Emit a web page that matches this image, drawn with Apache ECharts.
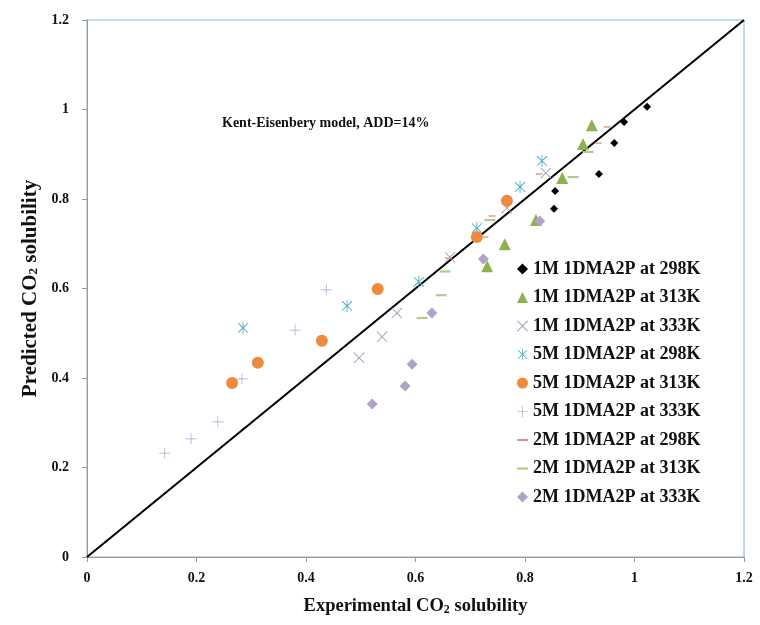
<!DOCTYPE html>
<html>
<head>
<meta charset="utf-8">
<script src="https://cdn.jsdelivr.net/npm/echarts@6/dist/echarts.min.js"></script>
<style>
  html, body { margin: 0; padding: 0; background: #fff; }
  #chart { width: 760px; height: 625px; }
</style>
</head>
<body>
<div id="chart"></div>
<script>
var seriesNames = [
    '1M 1DMA2P at 298K', '1M 1DMA2P at 313K', '1M 1DMA2P at 333K',
    '5M 1DMA2P at 298K', '5M 1DMA2P at 313K', '5M 1DMA2P at 333K',
    '2M 1DMA2P at 298K', '2M 1DMA2P at 313K', '2M 1DMA2P at 333K'
];
// [experimental, predicted]
var m1_298 = [[1.023, 1.006], [0.981, 0.972], [0.963, 0.925], [0.935, 0.856], [0.855, 0.818], [0.853, 0.778]];
var m1_313 = [[0.922, 0.965], [0.906, 0.923], [0.868, 0.847], [0.820, 0.753], [0.763, 0.699], [0.731, 0.650]];
var m1_333 = [[0.838, 0.858], [0.767, 0.780], [0.663, 0.670], [0.566, 0.545], [0.539, 0.492], [0.497, 0.445]];
var m5_298 = [[0.285, 0.512], [0.475, 0.561], [0.606, 0.615], [0.712, 0.735], [0.791, 0.827], [0.831, 0.885]];
var m5_313 = [[0.265, 0.389], [0.312, 0.434], [0.429, 0.483], [0.531, 0.599], [0.712, 0.715], [0.767, 0.796]];
var m5_333 = [[0.142, 0.232], [0.190, 0.264], [0.239, 0.302], [0.283, 0.398], [0.380, 0.507], [0.437, 0.597]];
var m2_298 = [[0.950, 0.961], [0.934, 0.925], [0.826, 0.856], [0.740, 0.762], [0.727, 0.715], [0.660, 0.668]];
var m2_313 = [[0.915, 0.905], [0.888, 0.849], [0.736, 0.753], [0.654, 0.638], [0.647, 0.585], [0.612, 0.534]];
var m2_333 = [[0.827, 0.751], [0.724, 0.666], [0.630, 0.545], [0.594, 0.431], [0.581, 0.382], [0.521, 0.342]];
var parityLine = [[0, 0], [1.2, 1.2]];

var serif = 'Liberation Serif';
var crossPath = 'path://M0,1.2L1.2,0L10,8.8L18.8,0L20,1.2L11.2,10L20,18.8L18.8,20L10,11.2L1.2,20L0,18.8L8.8,10Z';
var plusPath = 'path://M9.4,0H10.6V9.4H20V10.6H10.6V20H9.4V10.6H0V9.4H9.4Z';
var starPath = 'path://M9.3,0H10.7V20H9.3Z M1,2.4L2.2,1.4L10,8.9L17.8,1.4L19,2.4L11.2,10L19,17.6L17.8,18.6L10,11.1L2.2,18.6L1,17.6L8.8,10Z';
var dashPath = 'path://M0,0H20V4H0Z';

var styles = [
    { data: m1_298, symbol: 'diamond', size: 8, color: '#000000' },
    { data: m1_313, symbol: 'triangle', size: 12, color: '#8fb050' },
    { data: m1_333, symbol: crossPath, size: 11, color: '#a99bbd' },
    { data: m5_298, symbol: starPath, size: 12, color: '#4bacc6' },
    { data: m5_313, symbol: 'circle', size: 12, color: '#ef8a3c' },
    { data: m5_333, symbol: plusPath, size: 11, color: '#8ea9d8' },
    { data: m2_298, symbol: dashPath, size: 7, color: '#d99694' },
    { data: m2_313, symbol: dashPath, size: 11, color: '#b5cc88' },
    { data: m2_333, symbol: 'diamond', size: 11, color: '#b3a2c7' }
];

var series = styles.map(function (s, i) {
    return {
        name: seriesNames[i],
        type: 'scatter',
        data: s.data,
        symbol: s.symbol,
        symbolSize: s.size,
        symbolKeepAspect: true,
        itemStyle: { color: s.color, opacity: 1 },
        z: 3
    };
});
series.unshift({
    type: 'line',
    data: parityLine,
    symbol: 'none',
    silent: true,
    lineStyle: { color: '#000', width: 2 },
    z: 2
});

var chart = echarts.init(document.getElementById('chart'));
var option = {
    animation: false,
    grid: {
        left: 87, right: 16, top: 20, bottom: 68,
        show: true, borderColor: '#8db0dc', borderWidth: 1
    },
    legend: {
        data: seriesNames,
        orient: 'vertical',
        left: 512,
        top: 255,
        itemWidth: 11,
        itemHeight: 11,
        itemGap: 10.5,
        symbolKeepAspect: true,
        textStyle: { fontFamily: serif, fontWeight: 'bold', fontSize: 18, color: '#111', lineHeight: 16 }
    },
    xAxis: {
        type: 'value', min: 0, max: 1.2, interval: 0.2,
        name: '{a|Experimental CO}{s|2}{a| solubility}',
        nameLocation: 'middle', nameGap: 40,
        nameTextStyle: {
            rich: {
                a: { fontFamily: serif, fontWeight: 'bold', fontSize: 18.5, color: '#111' },
                s: { fontFamily: serif, fontWeight: 'bold', fontSize: 12, color: '#111', verticalAlign: 'bottom', padding: [7, 0, 0, 0] }
            }
        },
        splitLine: { show: false },
        axisLine: { lineStyle: { color: '#999', width: 1 } },
        axisTick: { show: true, length: 5, lineStyle: { color: '#999' } },
        axisLabel: { margin: 14, fontFamily: serif, fontWeight: 'bold', fontSize: 14, color: '#111' }
    },
    yAxis: {
        type: 'value', min: 0, max: 1.2, interval: 0.2,
        name: '{a|Predicted CO}{s|2}{a| solubility}',
        nameLocation: 'middle', nameGap: 46,
        nameTextStyle: {
            rich: {
                a: { fontFamily: serif, fontWeight: 'bold', fontSize: 21, color: '#111' },
                s: { fontFamily: serif, fontWeight: 'bold', fontSize: 13, color: '#111', verticalAlign: 'bottom', padding: [8, 0, 0, 0] }
            }
        },
        splitLine: { show: false },
        axisLine: { lineStyle: { color: '#999', width: 1 } },
        axisTick: { show: true, length: 5, lineStyle: { color: '#999' } },
        axisLabel: { margin: 18, fontFamily: serif, fontWeight: 'bold', fontSize: 14, color: '#111' }
    },
    graphic: [{
        type: 'text',
        left: 222,
        top: 116,
        style: {
            text: 'Kent-Eisenbery model, ADD=14%',
            fontFamily: serif, fontWeight: 'bold', fontSize: 14, fill: '#111'
        }
    }],
    series: series
};
chart.setOption(option);
</script>
</body>
</html>
